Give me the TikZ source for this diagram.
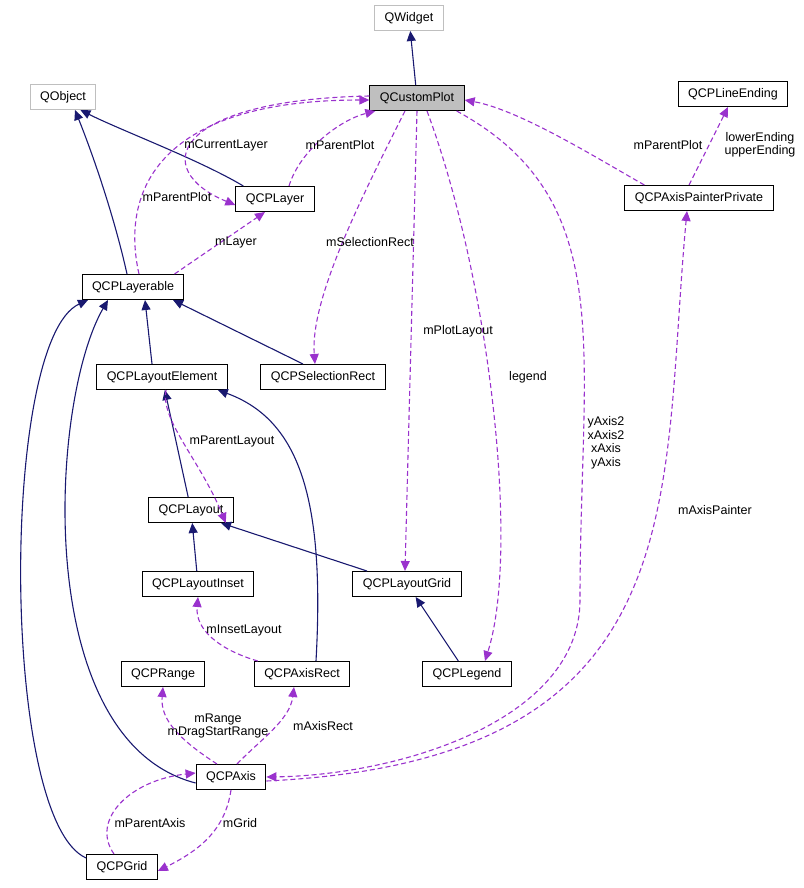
\documentclass[tikz,border=0pt]{standalone}
\usepackage{fontspec}
\setmainfont{Liberation Sans}
\usetikzlibrary{arrows.meta, positioning}
\definecolor{inheritcolor}{RGB}{25, 25, 112}
\definecolor{usecolor}{RGB}{154, 50, 205}
\definecolor{greycolor}{RGB}{191, 191, 191}

\begin{document}
\begin{tikzpicture}[
    x=1pt, y=-1pt,
    every node/.style={font=\fontsize{12.5}{13.5}\selectfont},
    cls/.style={draw, line width=1pt, minimum height=25pt, inner xsep=10pt, inner ysep=2pt},
    ext/.style={cls, draw=greycolor},
    inherit/.style={-{Triangle[length=10pt,width=9pt]}, inheritcolor, line width=1.1pt},
    use/.style={-{Triangle[length=10pt,width=9pt]}, usecolor, line width=1.1pt, dash pattern=on 5pt off 3pt},
    lbl/.style={align=center, inner sep=1pt}
]
\useasboundingbox (0,0) rectangle (803,888);

% Classes
\node[ext] (widget) at (409,18) {QWidget};
\node[cls, fill=greycolor] (plot) at (417,98) {QCustomPlot};
\node[ext] (object) at (63,97) {QObject};
\node[cls] (lineend) at (733,94) {QCPLineEnding};
\node[cls] (painter) at (699,198) {QCPAxisPainterPrivate};
\node[cls] (layer) at (275,199) {QCPLayer};
\node[cls] (layerable) at (133,287) {QCPLayerable};
\node[cls] (element) at (162,377) {QCPLayoutElement};
\node[cls] (selrect) at (323,377) {QCPSelectionRect};
\node[cls] (layout) at (191,510) {QCPLayout};
\node[cls] (inset) at (198,584) {QCPLayoutInset};
\node[cls] (grid) at (407,584) {QCPLayoutGrid};
\node[cls] (range) at (163,674) {QCPRange};
\node[cls] (axisrect) at (302,674) {QCPAxisRect};
\node[cls] (legend) at (467,674) {QCPLegend};
\node[cls] (axis) at (231,777) {QCPAxis};
\node[cls] (pgrid) at (122,867) {QCPGrid};

% Inheritance
\draw[inherit] (plot) -- (widget);
\draw[inherit] ([xshift=8pt]layer.north west) .. controls (200,160) and (120,130) .. ([xshift=-16pt]object.south east);
\draw[inherit] ([xshift=-6pt]layerable.north) .. controls (115,220) and (95,160) .. ([xshift=12pt]object.south);
\draw[inherit] ([xshift=-10pt]element.north) -- ([xshift=12pt]layerable.south);
\draw[inherit] ([xshift=-20pt]selrect.north) -- ([xshift=40pt]layerable.south);
\draw[inherit] (layout) -- (element);
\draw[inherit] (inset) -- (layout);
\draw[inherit] ([xshift=-40pt]grid.north) -- ([xshift=30pt]layout.south);
\draw[inherit] (legend) -- (grid);
\draw[inherit] ([xshift=14pt]axisrect.north) .. controls (325,500) and (300,420) .. ([xshift=-10pt]element.south east);
\draw[inherit] ([yshift=-6pt]axis.west) .. controls (30,740) and (50,400) .. ([xshift=-25pt]layerable.south);
\draw[inherit] ([yshift=-4pt]pgrid.north west) .. controls (0,820) and (0,340) .. ([xshift=-45pt]layerable.south);

% Usage
\draw[use] ([xshift=6pt]layerable.north) .. controls (120,190) and (160,100) .. ([yshift=-2pt]plot.west);
\draw[use] ([yshift=2pt]plot.west) .. controls (170,100) and (150,170) .. ([yshift=-6pt]layer.west);
\draw[use] ([xshift=14pt]layer.north) .. controls (300,150) and (340,120) .. ([xshift=6pt]plot.south west);
\draw[use] ([xshift=-10pt]layerable.north east) -- ([xshift=-10pt]layer.south);
\draw[use] ([xshift=-12pt]plot.south) .. controls (360,200) and (310,300) .. ([xshift=-8pt]selrect.north);
\draw[use] (plot.south) -- ([xshift=-2pt]grid.north);
\draw[use] ([xshift=10pt]plot.south) .. controls (490,280) and (520,550) .. ([xshift=18pt]legend.north);
\draw[use] ([xshift=-8pt]plot.south east) .. controls (620,200) and (580,350) .. (580,600)
    .. controls (580,720) and (400,775) .. (axis.east);
\draw[use] ([xshift=20pt]painter.north west) .. controls (600,160) and (520,110) .. ([yshift=-2pt]plot.east);
\draw[use] ([xshift=-10pt]painter.north) -- ([xshift=-5pt]lineend.south);
\draw[use] ([yshift=-4pt]axis.east) .. controls (700,760) and (660,500) .. ([xshift=-12pt]painter.south);
\draw[use] ([xshift=4pt]element.south) .. controls (160,420) and (200,460) .. ([xshift=-8pt]layout.south east);
\draw[use] ([xshift=4pt]axisrect.north west) .. controls (220,650) and (195,630) .. (inset.south);
\draw[use] ([xshift=-14pt]axis.north) .. controls (180,740) and (160,720) .. (range.south);
\draw[use] ([xshift=6pt]axis.north) .. controls (260,740) and (290,720) .. ([xshift=-8pt]axisrect.south);
\draw[use] ([xshift=-8pt]pgrid.north) .. controls (90,820) and (130,780) .. ([yshift=4pt]axis.west);
\draw[use] (axis.south) .. controls (225,830) and (200,850) .. ([yshift=-4pt]pgrid.east);

% Labels
\node[lbl] (lcurlayer) at (226,145) {mCurrentLayer};
\node[lbl] (lplotlayer) at (340,145) {mParentPlot};
\node[lbl] (lplotlayerable) at (177,197) {mParentPlot};
\node[lbl] (llayer) at (236,242) {mLayer};
\node[lbl] (lselrect) at (370,242) {mSelectionRect};
\node[lbl] (lplotlayout) at (458,331) {mPlotLayout};
\node[lbl] (llegend) at (528,377) {legend};
\node[lbl] (laxes) at (606,443) {yAxis2\\xAxis2\\xAxis\\yAxis};
\node[lbl] (lplotpainter) at (668,145) {mParentPlot};
\node[lbl] (lendings) at (760,145) {lowerEnding\\upperEnding};
\node[lbl] (lpainter) at (715,510) {mAxisPainter};
\node[lbl] (lparentlayout) at (232,441) {mParentLayout};
\node[lbl] (linset) at (244,630) {mInsetLayout};
\node[lbl] (lrange) at (218,726) {mRange\\mDragStartRange};
\node[lbl] (laxisrect) at (323,726) {mAxisRect};
\node[lbl] (lparentaxis) at (150,823) {mParentAxis};
\node[lbl] (lgrid) at (240,823) {mGrid};
\end{tikzpicture}
\end{document}
